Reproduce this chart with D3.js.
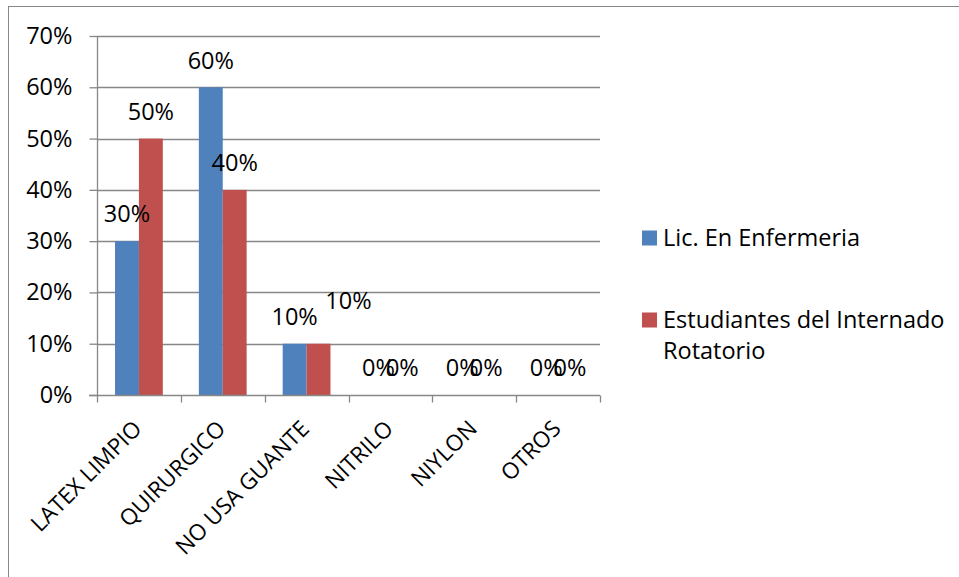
<!DOCTYPE html>
<html>
<head>
<meta charset="utf-8">
<script src="https://cdn.jsdelivr.net/npm/d3@7"></script>
<style>
  html, body { margin: 0; padding: 0; background: #fff; }
  svg { display: block; }
  text { font-family: "Open Sans", sans-serif; fill: #000; }
</style>
</head>
<body>
<svg id="chart" width="959" height="577"></svg>
<script>
// Tipo de guante utilizado, por grupo
const categories = ["LATEX LIMPIO", "QUIRURGICO", "NO USA GUANTE", "NITRILO", "NIYLON", "OTROS"];
const seriesNames = ["Lic. En Enfermeria", "Estudiantes del Internado Rotatorio"];
const licEnfermeria = [0.30, 0.60, 0.10, 0, 0, 0];
const estudiantesInternado = [0.50, 0.40, 0.10, 0, 0, 0];
const yTicks = [0, 0.1, 0.2, 0.3, 0.4, 0.5, 0.6, 0.7];
const seriesColors = ["#4F81BD", "#C0504D"];

const seriesValues = [licEnfermeria, estudiantesInternado];
const rows = categories.map((c, i) => ({
  cat: c,
  vals: seriesValues.map((s, k) => ({ key: seriesNames[k], k, v: s[i] }))
}));

const svg = d3.select("#chart");
const FS = 23.5;
const gridColor = "#878787";

// chart frame
svg.append("rect")
  .attr("x", 8.5).attr("y", 6.5)
  .attr("width", 980).attr("height", 600)
  .attr("fill", "none").attr("stroke", gridColor).attr("stroke-width", 1);

const x = d3.scaleBand().domain(categories).range([97, 600]).padding(0);
const step = x.step();
const xInner = d3.scaleBand().domain(seriesNames)
  .range([step * 0.215, step * 0.785]).padding(0);
const y = d3.scaleLinear().domain([0, 0.7]).range([395, 36]);

// horizontal gridlines
svg.append("g").selectAll("line").data(yTicks.slice(1)).join("line")
  .attr("x1", 97).attr("x2", 600)
  .attr("y1", d => Math.round(y(d)) + 0.5).attr("y2", d => Math.round(y(d)) + 0.5)
  .attr("stroke", gridColor).attr("stroke-width", 1.3);

// y axis
const yAxis = svg.append("g").attr("transform", "translate(97.5,0)")
  .call(d3.axisLeft(y).tickValues(yTicks).tickSize(8).tickPadding(17)
    .tickFormat(d3.format(".0%")));
yAxis.selectAll("line, path").attr("stroke", gridColor).attr("stroke-width", 1.3);
yAxis.select(".domain").attr("d", `M0,${y(0.7)}V${y(0)}`);
yAxis.selectAll("text").attr("font-size", FS).attr("font-family", null).attr("fill", "#000");

// bars
const groups = svg.append("g").selectAll("g").data(rows).join("g")
  .attr("transform", d => `translate(${x(d.cat)},0)`);
groups.selectAll("rect").data(d => d.vals).join("rect")
  .attr("x", d => xInner(d.key))
  .attr("width", xInner.bandwidth())
  .attr("y", d => y(d.v))
  .attr("height", d => y(0) - y(d.v))
  .attr("fill", d => seriesColors[d.k]);

// x axis with tick marks at category boundaries
const xBase = Math.round(y(0)) + 0.5;
svg.append("line").attr("x1", 89).attr("x2", 600).attr("y1", xBase).attr("y2", xBase)
  .attr("stroke", gridColor).attr("stroke-width", 1.3);
const bounds = categories.map(c => x(c)).concat([x.range()[1]]);
svg.append("g").selectAll("line").data(bounds).join("line")
  .attr("x1", d => Math.round(d) + 0.5).attr("x2", d => Math.round(d) + 0.5)
  .attr("y1", xBase).attr("y2", xBase + 7)
  .attr("stroke", gridColor).attr("stroke-width", 1.3);

// rotated category labels
svg.append("g").selectAll("text").data(categories).join("text")
  .attr("transform", d => `translate(${x(d) + step / 2 - 7},${419}) rotate(-45)`)
  .attr("text-anchor", "end")
  .attr("dy", "0.7em")
  .attr("font-size", 22.5)
  .text(d => d);

// data labels (one label nudged aside to avoid overlap)
const nudge = { "2-1": [30, -16] };
groups.selectAll("text.val").data((d, i) => d.vals.map(v => ({ ...v, i }))).join("text")
  .attr("class", "val")
  .attr("x", d => xInner(d.key) + xInner.bandwidth() / 2 + ((nudge[d.i + "-" + d.k] || [0, 0])[0]))
  .attr("y", d => y(d.v) - 27 + ((nudge[d.i + "-" + d.k] || [0, 0])[1]))
  .attr("dy", "0.35em")
  .attr("text-anchor", "middle")
  .attr("font-size", FS)
  .text(d => d3.format(".0%")(d.v));

// legend
const legend = svg.append("g");
const legendRows = [
  { lines: [seriesNames[0]], y: 238 },
  { lines: ["Estudiantes del Internado", "Rotatorio"], y: 320 }
];
legendRows.forEach((r, k) => {
  legend.append("rect").attr("x", 642).attr("y", r.y - 7.5).attr("width", 15).attr("height", 15)
    .attr("fill", seriesColors[k]);
  const t = legend.append("text").attr("x", 663).attr("y", r.y)
    .attr("font-size", FS);
  r.lines.forEach((ln, j) => t.append("tspan").attr("x", 663).attr("dy", j === 0 ? "0.35em" : "1.33em").text(ln));
});
</script>
</body>
</html>
